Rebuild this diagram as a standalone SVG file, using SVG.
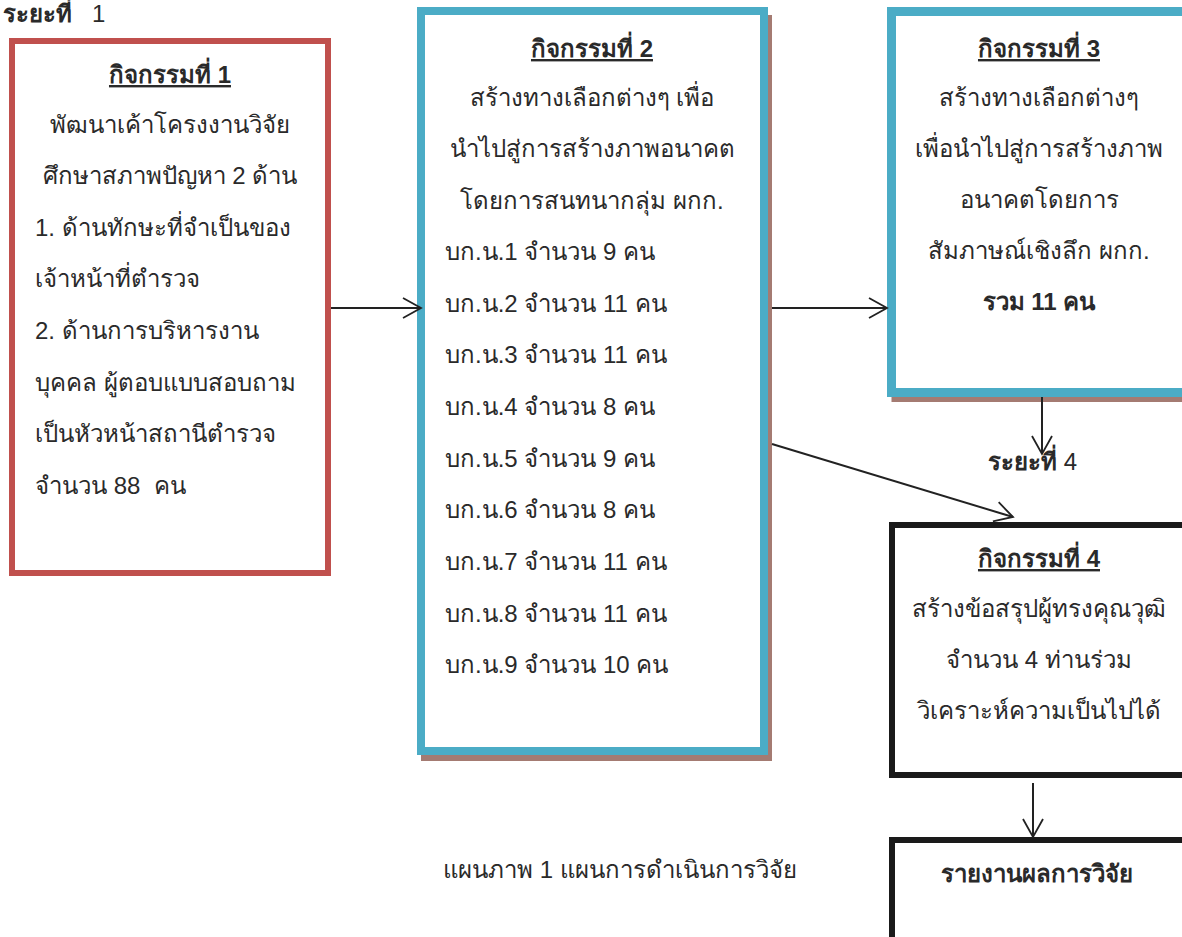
<svg xmlns="http://www.w3.org/2000/svg" width="1182" height="937" viewBox="0 0 1182 937">
<defs>
<marker id="arr" markerUnits="userSpaceOnUse" markerWidth="24" markerHeight="24" viewBox="-20 -12 24 24" refX="0" refY="0" orient="auto">
<path d="M-18,-10 L0,0 L-18,10" fill="none" stroke="#222" stroke-width="1.8"/>
</marker>
</defs>
<style>
text{font-family:"Liberation Sans","Noto Sans",Arial,sans-serif;font-size:24px;fill:#2a2a2a}
.c{text-anchor:middle}
.b{font-weight:bold}
.u{text-decoration:underline}
.ln{stroke:#222;stroke-width:2;fill:none}
</style>
<rect width="1182" height="937" fill="#fff"/>
<text x="3" y="22" xml:space="preserve"><tspan class="b">ระยะที่</tspan>   1</text>
<text x="988" y="470" xml:space="preserve"><tspan class="b">ระยะที่</tspan> 4</text>
<text x="443" y="878">แผนภาพ 1 แผนการดำเนินการวิจัย</text>

<g id="node1">
<rect x="12" y="41" width="316" height="532" fill="#fff" stroke="#C0504D" stroke-width="6"/>
<text class="c b u" x="170" y="83">กิจกรรมที่ 1</text>
<text class="c" x="170" y="133">พัฒนาเค้าโครงงานวิจัย</text>
<text class="c" x="170" y="184">ศึกษาสภาพปัญหา 2 ด้าน</text>
<text x="35" y="236">1. ด้านทักษะที่จำเป็นของ</text>
<text x="35" y="287">เจ้าหน้าที่ตำรวจ</text>
<text x="35" y="339">2. ด้านการบริหารงาน</text>
<text x="35" y="391">บุคคล ผู้ตอบแบบสอบถาม</text>
<text x="35" y="442">เป็นหัวหน้าสถานีตำรวจ</text>
<text x="35" y="494" xml:space="preserve">จำนวน 88  คน</text>
</g>

<g id="node2">
<rect x="421" y="15" width="351" height="746" fill="#A47B72"/>
<rect x="421" y="11" width="343" height="740" fill="#fff" stroke="#4BACC6" stroke-width="8"/>
<text class="c b u" x="592" y="57">กิจกรรมที่ 2</text>
<text class="c" x="592" y="106">สร้างทางเลือกต่างๆ เพื่อ</text>
<text class="c" x="592" y="157">นำไปสู่การสร้างภาพอนาคต</text>
<text class="c" x="592" y="209">โดยการสนทนากลุ่ม ผกก.</text>
<text x="445" y="260">บก.น.1 จำนวน 9 คน</text>
<text x="445" y="312">บก.น.2 จำนวน 11 คน</text>
<text x="445" y="363">บก.น.3 จำนวน 11 คน</text>
<text x="445" y="415">บก.น.4 จำนวน 8 คน</text>
<text x="445" y="467">บก.น.5 จำนวน 9 คน</text>
<text x="445" y="518">บก.น.6 จำนวน 8 คน</text>
<text x="445" y="570">บก.น.7 จำนวน 11 คน</text>
<text x="445" y="622">บก.น.8 จำนวน 11 คน</text>
<text x="445" y="673">บก.น.9 จำนวน 10 คน</text>
</g>

<g id="node3">
<rect x="891.5" y="16" width="310" height="386" fill="#A47B72"/>
<rect x="891.5" y="11.5" width="310" height="381" fill="#fff" stroke="#4BACC6" stroke-width="9"/>
<text class="c b u" x="1039" y="57">กิจกรรมที่ 3</text>
<text class="c" x="1039" y="106">สร้างทางเลือกต่างๆ</text>
<text class="c" x="1039" y="157">เพื่อนำไปสู่การสร้างภาพ</text>
<text class="c" x="1039" y="208">อนาคตโดยการ</text>
<text class="c" x="1039" y="259">สัมภาษณ์เชิงลึก ผกก.</text>
<text class="c b" x="1039" y="310">รวม 11 คน</text>
</g>

<g id="node4">
<rect x="892" y="525" width="310" height="250" fill="#fff" stroke="#1a1a1a" stroke-width="6"/>
<text class="c b u" x="1039" y="567">กิจกรรมที่ 4</text>
<text class="c" x="1039" y="617">สร้างข้อสรุปผู้ทรงคุณวุฒิ</text>
<text class="c" x="1039" y="668">จำนวน 4 ท่านร่วม</text>
<text class="c" x="1039" y="719">วิเคราะห์ความเป็นไปได้</text>
</g>

<g id="node5">
<rect x="892" y="840" width="310" height="200" fill="#fff" stroke="#1a1a1a" stroke-width="6"/>
<text class="c b" x="1037" y="882">รายงานผลการวิจัย</text>
</g>

<g id="connectors">
<line class="ln" x1="331" y1="308" x2="421" y2="308" marker-end="url(#arr)"/>
<line class="ln" x1="772" y1="308" x2="887" y2="308" marker-end="url(#arr)"/>
<line class="ln" x1="1042" y1="397" x2="1042" y2="454" marker-end="url(#arr)"/>
<line class="ln" x1="772" y1="444" x2="1013" y2="517" marker-end="url(#arr)"/>
<line class="ln" x1="1033" y1="783" x2="1033" y2="837" marker-end="url(#arr)"/>
</g>
</svg>
